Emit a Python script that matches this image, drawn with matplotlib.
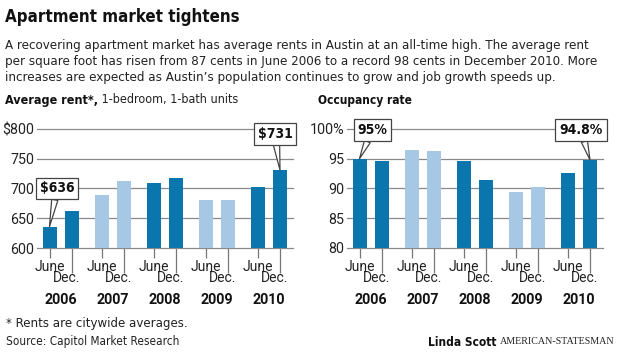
import matplotlib
matplotlib.use("Agg")
import matplotlib.pyplot as plt
from matplotlib import font_manager

entries = font_manager.fontManager.ttflist
names = set(f.name for f in entries)
has_cond = any(f.name == 'DejaVu Sans' and 'Condensed' in f.fname for f in entries)
if "Liberation Sans Narrow" in names:
    head_font = dict(family=['Liberation Sans Narrow', 'DejaVu Sans'])
elif has_cond:
    head_font = dict(family=['DejaVu Sans'], fontstretch='condensed')
else:
    head_font = dict(family=['Roboto', 'DejaVu Sans'])
plt.rcParams['font.family'] = ['Roboto', 'DejaVu Sans']

years = ['2006', '2007', '2008', '2009', '2010']
halves = ['June', 'Dec.']
rent = [636, 663, 689, 712, 709, 717, 680, 680, 703, 731]
occupancy = [95.0, 94.7, 96.5, 96.3, 94.6, 91.4, 89.4, 90.3, 92.6, 94.8]
light_years = ['2007', '2009']

dark = '#0a76ad'
light = '#a6c8e4'
grid_c = '#8a8a8a'

fig = plt.figure(figsize=(6.18, 3.52), dpi=100)
W, H = 618.0, 352.0

def fx(px):
    return px / W

def fy(py):
    return 1 - py / H

to_fit = []  # (text artist, target width in px)

# header
t = fig.text(fx(5), fy(17), 'Apartment market tightens', fontsize=17, fontweight='bold',
             va='center', ha='left', color='#111111', **head_font)
to_fit.append((t, 234))
body = ["A recovering apartment market has average rents in Austin at an all-time high. The average rent",
        "per square foot has risen from 87 cents in June 2006 to a record 98 cents in December 2010. More",
        "increases are expected as Austin\u2019s population continues to grow and job growth speeds up."]
body_t = []
for i, line in enumerate(body):
    body_t.append(fig.text(fx(5), fy(45 + i * 16.3), line, fontsize=10.5, va='center', ha='left',
                           color='#222222', **head_font))

# positions: June bar then Dec bar for each year
xs = []
for i in range(len(years)):
    xs.append(i * 52.0)
    xs.append(i * 52.0 + 22.5)
colors = []
for y in years:
    c = light if y in light_years else dark
    colors += [c, c]


def panel(left_px, values, ylo, yhi, step, ylabels):
    ax = fig.add_axes([fx(left_px), fy(248), 256 / W, 119 / H])
    ax.bar(xs, values, width=14, color=colors, zorder=3)
    ax.set_xlim(-12.5, 243.5)
    ax.set_ylim(ylo, yhi)
    ticks = [ylo + k * step for k in range(5)]
    ax.set_yticks(ticks)
    ax.set_yticklabels(ylabels[::-1], fontsize=10.3, color='#222222')
    ax.tick_params(axis='y', length=0, pad=2)
    ax.yaxis.grid(True, color=grid_c, lw=0.9)
    for gl in ax.get_ygridlines():
        gl.set_clip_on(False)
    ax.set_axisbelow(True)
    for s in ax.spines.values():
        s.set_visible(False)
    # June ticks with labels
    ax.set_xticks(xs[0::2])
    ax.set_xticklabels([halves[0]] * len(years), fontsize=10, color='#222222')
    ax.tick_params(axis='x', length=7, width=0.9, color='#777777', pad=1.5)
    # Dec ticks, longer
    ax.set_xticks(xs[1::2], minor=True)
    ax.tick_params(axis='x', which='minor', length=18, width=0.9, color='#777777')
    tr = ax.get_xaxis_transform()
    for i, x in enumerate(xs[1::2]):
        ax.text(x - 5, -0.255, halves[1], transform=tr, ha='center', va='center',
                fontsize=10, color='#222222')
        ax.text(x - 11, -0.44, years[i], transform=tr, ha='center', va='center',
                fontsize=10.3, fontweight='bold', color='#111111')
    return ax


ax1 = panel(37, rent, 600, 800, 50, ['$800', '750', '700', '650', '600'])
ax2 = panel(347, occupancy, 80, 100, 5, ['100%', '95', '90', '85', '80'])

box = dict(boxstyle='square,pad=0.28', fc='white', ec='#444444', lw=0.9)
arrow = dict(arrowstyle='wedge,tail_width=0.45,shrink_factor=0.5', fc='white', ec='#444444', lw=0.9,
             shrinkA=0, shrinkB=0)


def callout(ax, i, values, fmt, tx, ty):
    ax.annotate(fmt.format(values[i]), xy=(xs[i], values[i]), xytext=(tx, ty),
                ha='center', va='center', fontsize=10, fontweight='bold', color='#111111',
                bbox=box, arrowprops=arrow, zorder=5, annotation_clip=False, **head_font)


callout(ax1, 0, rent, '${:.0f}', 7.5, 700)
callout(ax1, 9, rent, '${:.0f}', 225.5, 792)
callout(ax2, 0, occupancy, '{:.0f}%', 13, 99.8)
callout(ax2, 9, occupancy, '{:.1f}%', 221.5, 99.8)

# panel titles
t1 = fig.text(fx(5), fy(100), 'Average rent*,', fontsize=10.5, fontweight='bold',
              va='center', ha='left', color='#111111', **head_font)
t1b = ax1.annotate(' 1-bedroom, 1-bath units', xy=(1, 0.5), xycoords=t1, va='center', ha='left',
                   fontsize=10.5, color='#222222', annotation_clip=False, **head_font)
t3 = fig.text(fx(318), fy(100), 'Occupancy rate', fontsize=10.5, fontweight='bold',
              va='center', ha='left', color='#111111', **head_font)
to_fit.append((t3, 94))

# footer
t = fig.text(fx(6), fy(323), '* Rents are citywide averages.', fontsize=10, va='center', ha='left',
             color='#222222', **head_font)
to_fit.append((t, 181))
t = fig.text(fx(6), fy(342), 'Source: Capitol Market Research', fontsize=10, va='center', ha='left',
             color='#222222', **head_font)
to_fit.append((t, 173))
credit = fig.text(fx(615), fy(342), 'AMERICAN-STATESMAN', fontsize=7.2,
                  family=['Liberation Serif', 'DejaVu Serif'], va='center', ha='right', color='#222222')
author = ax1.annotate('Linda Scott ', xy=(0, 0.5), xycoords=credit, va='center', ha='right',
                      fontsize=8.6, fontweight='bold', color='#111111', annotation_clip=False, **head_font)

# scale fonts so text widths match the reference
fig.canvas.draw()
r = fig.canvas.get_renderer()
for art, target in to_fit:
    w = art.get_window_extent(r).width
    art.set_fontsize(art.get_fontsize() * target / w)
w = body_t[0].get_window_extent(r).width
for art in body_t:
    art.set_fontsize(art.get_fontsize() * 585 / w)
w = t1.get_window_extent(r).width + t1b.get_window_extent(r).width
for art in (t1, t1b):
    art.set_fontsize(art.get_fontsize() * 236 / w)

fig.savefig('out.png', dpi=100)
